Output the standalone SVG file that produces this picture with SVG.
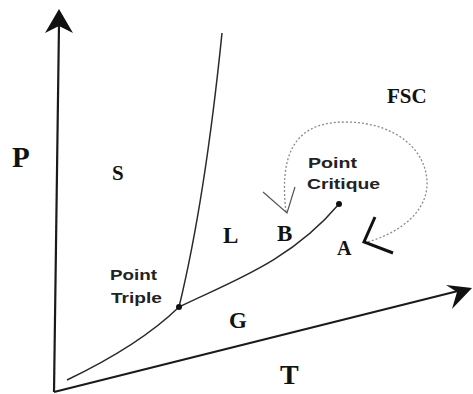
<svg xmlns="http://www.w3.org/2000/svg" width="473" height="394" viewBox="0 0 473 394">
<style>
.axis{fill:none;stroke:#1a1a1a;stroke-width:2.2}
.curve{fill:none;stroke:#2a2a2a;stroke-width:1.5}
.dot{fill:#111}
.big{font-family:"Liberation Serif","Times New Roman",serif;font-weight:bold;fill:#111}
.lbl{font-family:"Liberation Sans",Arial,sans-serif;font-weight:bold;font-size:15px;fill:#222}
.loop{fill:none;stroke:#8a8a8a;stroke-width:1.3;stroke-dasharray:2 2}
</style>
<rect width="473" height="394" fill="#fff"/>
<g id="axes">
<path class="axis" d="M54,392 L59,24"/>
<polygon points="59,9 73,33 59,26 45,33" fill="#111"/>
<path class="axis" d="M54,392 L462,290"/>
<polygon points="472,288 452,309 457,292 446,285" fill="#111"/>
</g>
<g id="connectors">
<path id="sublimation" class="curve" d="M67,380 Q140,345 179,307"/>
<path id="vaporisation" class="curve" d="M179,307 C230,282 290,262 339,204"/>
<path id="fusion" class="curve" stroke-width="1.3" d="M179,307 Q205,200 222,33"/>
<path id="path-loop" class="loop" d="M286,212 C280,160 290,122 345,122 C395,122 428,150 427,185 C426,215 395,235 364,243"/>
<polyline id="arrow-B" points="263,192 287,213 295,187" fill="none" stroke="#555" stroke-width="1.2"/>
<polyline id="arrow-A" points="375,217 364,242 393,253" fill="none" stroke="#111" stroke-width="3"/>
</g>
<g id="point-triple">
<circle class="dot" cx="179" cy="307" r="3"/>
<text class="lbl" x="110" y="280" textLength="47" lengthAdjust="spacingAndGlyphs">Point</text>
<text class="lbl" x="111" y="303" textLength="51" lengthAdjust="spacingAndGlyphs">Triple</text>
</g>
<g id="point-critique">
<circle class="dot" cx="339" cy="204" r="3"/>
<text class="lbl" x="308" y="168" textLength="49" lengthAdjust="spacingAndGlyphs">Point</text>
<text class="lbl" x="307" y="189" textLength="73" lengthAdjust="spacingAndGlyphs">Critique</text>
</g>
<g id="label-P"><text class="big" x="12" y="167" font-size="29">P</text></g>
<g id="label-T"><text class="big" x="280" y="384" font-size="28">T</text></g>
<g id="label-S"><text class="big" x="112" y="180" font-size="21">S</text></g>
<g id="label-L"><text class="big" x="223" y="243" font-size="23">L</text></g>
<g id="label-G"><text class="big" x="229" y="328" font-size="23">G</text></g>
<g id="label-B"><text class="big" x="277" y="241" font-size="23">B</text></g>
<g id="label-A"><text class="big" x="337" y="255" font-size="20" font-weight="normal">A</text></g>
<g id="label-FSC"><text class="big" x="387" y="103" font-size="21">FSC</text></g>
</svg>
